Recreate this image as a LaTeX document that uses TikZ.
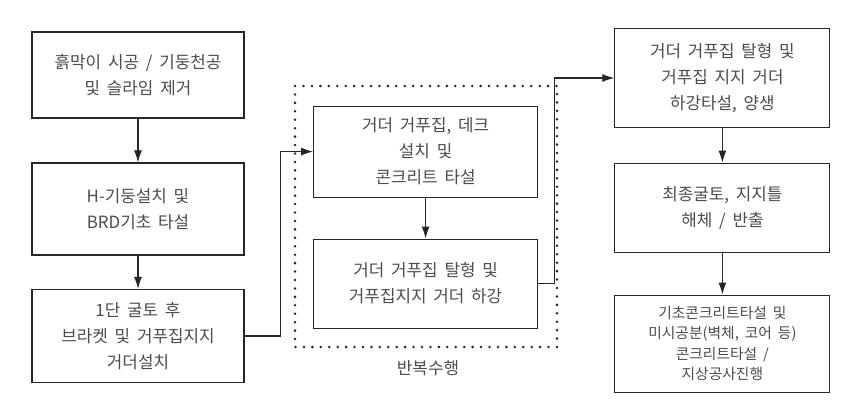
\documentclass[tikz,border=0pt]{standalone}
\usepackage{fontspec}
\setmainfont{Noto Sans CJK KR}[WordSpace=1.8]
\usetikzlibrary{arrows.meta}

\begin{document}
\begin{tikzpicture}[>={Latex[length=3mm,width=2mm]}, line width=0.8pt,
  stage/.style={draw=black!85, text=black!70, align=center, inner sep=2pt,
    font=\fontsize{12}{18.5}\selectfont, minimum width=5.3cm}]
  \useasboundingbox (0,0) rectangle (21.625,-10.225);

  % left column
  \node[stage, minimum height=2.15cm] (dig) at (3.45,-1.875)
    {흙막이 시공 / 기둥천공\\및 슬라임 제거};
  \node[stage, minimum height=2.3cm] (column) at (3.45,-5.225)
    {H-기둥설치 및\\BRD기초 타설};
  \node[stage, minimum height=2.325cm] (bracket) at (3.45,-8.4)
    {1단 굴토 후\\브라켓 및 거푸집지지\\거더설치};

  % repeated steps
  \node[stage, minimum width=5.6cm, minimum height=2.275cm] (pour) at (10.64,-3.79)
    {거더 거푸집, 데크\\설치 및\\콘크리트 타설};
  \node[stage, minimum width=5.6cm, minimum height=2.225cm] (lower) at (10.64,-7.09)
    {거더 거푸집 탈형 및\\거푸집지지 거더 하강};
  \draw[black!85, line width=2pt, line cap=round, dash pattern=on 0pt off 6pt]
    (7.375,-2.15) rectangle (13.925,-8.675);
  \node[text=black!70, font=\fontsize{12}{14}\selectfont] (repeat) at (10.7,-9.2) {반복수행};

  % right column
  \node[stage, minimum width=5.375cm, minimum height=2.475cm] (cure) at (18.06,-1.95)
    {거더 거푸집 탈형 및\\거푸집 지지 거더\\하강타설, 양생};
  \node[stage, minimum width=5.375cm, minimum height=2.225cm] (remove) at (18.06,-5.19)
    {최종굴토, 지지틀\\해체 / 반출};
  \node[stage, minimum width=5.375cm, minimum height=2.425cm,
    font=\fontsize{10.5}{14.5}\selectfont] (found) at (18.06,-8.59)
    {기초콘크리트타설 및\\미시공분(벽체, 코어 등)\\콘크리트타설 /\\지상공사진행};

  % connectors
  \draw[->, black!85] (dig) -- (column);
  \draw[->, black!85] (column) -- (bracket);
  \draw[->, black!85] (bracket.east) -- ++(0.9,0) |- (pour.west);
  \draw[->, black!85] (pour) -- (lower);
  \draw[->, black!85] (lower.east) -- ++(0.4,0) |- (cure.west);
  \draw[->, black!85] (cure) -- (remove);
  \draw[->, black!85] (remove) -- (found);
\end{tikzpicture}
\end{document}
